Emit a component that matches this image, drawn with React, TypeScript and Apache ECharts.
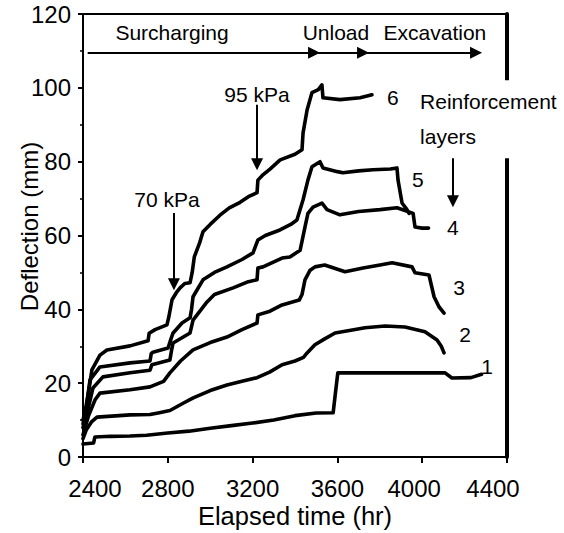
import React, { useEffect, useRef } from "react";
import * as echarts from "echarts";

// Elapsed time (hr), deflection (mm) pairs
const curve1: number[][] = [
  [2400, 3.5], [2450, 3.8], [2456, 5.4], [2530, 5.6], [2622, 5.7], [2700, 5.9], [2800, 6.5],
  [2900, 7.0], [3000, 7.8], [3100, 8.5], [3200, 9.2], [3300, 10.0], [3400, 11.2],
  [3500, 11.9], [3580, 12.0], [3590, 17], [3602, 22.8], [4108, 22.8], [4140, 21.4],
  [4230, 21.5], [4280, 22.4],
];
const curve2: number[][] = [
  [2400, 5], [2415, 7.3], [2440, 9.5], [2466, 10.8], [2622, 11.4], [2716, 11.5],
  [2760, 12], [2810, 12.6], [2870, 14.5], [2920, 16], [3000, 18], [3079, 19.5],
  [3150, 20.5], [3221, 21.5], [3280, 23], [3339, 25], [3400, 26], [3440, 27],
  [3457, 28.2], [3494, 30.4], [3540, 32], [3589, 33.6], [3650, 34.2], [3730, 35],
  [3825, 35.5], [3919, 35.2], [4013, 33.9], [4070, 31.7], [4090, 30], [4103, 28.2],
];
const curve3: number[][] = [
  [2400, 6], [2425, 11], [2457, 15.5], [2480, 17.3], [2622, 18.2], [2716, 19],
  [2780, 20.5], [2810, 22.8], [2860, 26], [2919, 29], [3000, 31], [3079, 32.5],
  [3150, 34.5], [3221, 36.3], [3225, 38.5], [3282, 39.5], [3339, 41.2], [3420, 42.5],
  [3433, 44], [3447, 48], [3470, 50.5], [3494, 51.5], [3540, 52], [3636, 50.2],
  [3721, 51.2], [3801, 52], [3858, 52.6], [3952, 51.5], [3966, 49.9], [4032, 49.3],
  [4056, 43.4], [4079, 40.7], [4103, 39],
];
const curve4: number[][] = [
  [2400, 8], [2420, 12], [2447, 18.7], [2494, 21.7], [2622, 22.8], [2716, 23.5],
  [2725, 25], [2810, 26.3], [2818, 29], [2825, 30.9], [2905, 33.6], [2919, 37.1],
  [2985, 42], [3020, 44], [3108, 45.8], [3180, 47.5], [3221, 48], [3225, 51.2],
  [3249, 51.5], [3339, 53.9], [3376, 54.2], [3424, 56], [3447, 62.3], [3461, 66],
  [3485, 67.7], [3527, 68.8], [3551, 67], [3612, 65.6], [3700, 66.5], [3801, 67],
  [3881, 67.5], [3957, 66], [3966, 62.3], [4000, 62], [4030, 62],
];
const curve5: number[][] = [
  [2400, 9], [2415, 13], [2433, 20.9], [2480, 24.4], [2622, 25.5], [2716, 26],
  [2722, 28], [2730, 28.4], [2801, 29.5], [2815, 32], [2825, 33.6], [2867, 36.3],
  [2905, 37.7], [2912, 40], [2919, 43.4], [2966, 48], [3020, 50], [3079, 51.5],
  [3150, 53.5], [3202, 55.3], [3225, 58.8], [3260, 60], [3329, 61.5], [3380, 63],
  [3409, 64.2], [3438, 69.7], [3461, 75], [3480, 78.6], [3518, 80], [3532, 78.3],
  [3600, 77.3], [3626, 77], [3700, 77.5], [3768, 77.8], [3850, 78], [3881, 78.3],
  [3886, 75], [3905, 68.8], [3928, 67], [3938, 66],
];
const curve6: number[][] = [
  [2400, 10], [2415, 14], [2430, 19], [2442, 23.6], [2480, 27.6], [2513, 29],
  [2622, 30.1], [2707, 31.5], [2712, 33.5], [2740, 34.5], [2796, 35.8], [2805, 38],
  [2820, 42.6], [2840, 44.5], [2858, 45.8], [2880, 47], [2905, 47.2], [2915, 50],
  [2925, 54.2], [2950, 58], [2966, 61], [3000, 63], [3046, 65.5], [3090, 67.5],
  [3141, 69], [3180, 70.5], [3221, 71.6], [3225, 75], [3250, 76.5], [3282, 78],
  [3330, 80.5], [3400, 82], [3433, 83.2], [3438, 87.8], [3457, 94], [3480, 98.7],
  [3510, 99.5], [3527, 100.8], [3532, 97.3], [3612, 96.8], [3707, 97.3], [3763, 98.1],
];
const curves = [curve1, curve2, curve3, curve4, curve5, curve6];

const xTicks = { min: 2400, max: 4400, interval: 400 };
const yTicks = { min: 0, max: 120, interval: 20 };
const xLabelShift: Record<number, number> = { 2400: 12, 4000: -8, 4400: -14 };

// Stage arrow line (time, deflection level)
const stageLevel = 109.5;
const stageArrows: number[][] = [[2422, 3490], [3490, 3721], [3721, 4254]];
// Vertical arrows: [time, top, end]
const vArrows: number[][] = [[2829, 66.1, 46.8], [3221, 95.4, 79.3], [4145, 83.2, 69.3]];

// Text labels: [text, time, deflection]
const centerLabels: [string, number, number][] = [
  ["Surcharging", 2820, 114.9],
  ["Unload", 3593, 114.9],
  ["Excavation", 4060, 114.9],
  ["95 kPa", 3221, 98.1],
  ["70 kPa", 2796, 69.7],
  ["6", 3862, 97.3],
  ["5", 3980, 75.1],
  ["4", 4145, 62.3],
  ["3", 4174, 45.8],
  ["2", 4202, 33.1],
  ["1", 4306, 24.4],
];
const layersLabel: [string, number, number] = ["Reinforcement\nlayers", 3990, 91.5];

const FONT = "Liberation Sans, Arial, sans-serif";
const TICK_FS = 24;

export default function App() {
  const ref = useRef<HTMLDivElement>(null);
  useEffect(() => {
    if (!ref.current) return;
    const chart = echarts.init(ref.current, undefined, { renderer: "svg" });
    const markLineData: any[] = [];
    stageArrows.forEach(([a, b]) => {
      markLineData.push([{ coord: [a, stageLevel] }, { coord: [b, stageLevel] }]);
    });
    vArrows.forEach(([t, top, end]) => {
      markLineData.push([{ coord: [t, top] }, { coord: [t, end] }]);
    });
    const markPointData: any[] = centerLabels.map(([text, t, v]) => ({
      coord: [t, v],
      label: { show: true, formatter: text, position: "inside" },
    }));
    markPointData.push({
      coord: [layersLabel[1], layersLabel[2]],
      label: {
        show: true,
        formatter: layersLabel[0],
        position: "right",
        distance: 0,
        align: "left",
        lineHeight: 35,
        backgroundColor: "#fff",
        padding: [4, 4, 4, 0],
      },
    });

    const series: any[] = curves.map((c) => ({
      type: "line",
      data: c,
      showSymbol: false,
      silent: true,
      lineStyle: { color: "#000", width: 3.6, join: "round", cap: "round" },
      itemStyle: { color: "#000" },
      z: 3,
    }));
    series[0].markLine = {
      silent: true,
      symbol: ["none", "triangle"],
      symbolSize: [12, 12],
      label: { show: false },
      lineStyle: { color: "#000", width: 2, type: "solid" },
      itemStyle: { color: "#000" },
      data: markLineData,
    };
    series[0].markPoint = {
      silent: true,
      symbol: "circle",
      symbolSize: 0,
      itemStyle: { color: "rgba(0,0,0,0)" },
      label: { show: true, color: "#000", fontSize: 21, fontFamily: FONT },
      data: markPointData,
      z: 10,
    };

    chart.setOption({
      animation: false,
      backgroundColor: "#fff",
      textStyle: { fontFamily: FONT, color: "#000" },
      grid: {
        left: 83,
        right: 57,
        top: 14,
        bottom: 76,
        containLabel: false,
        outerBoundsMode: "none",
      },
      xAxis: [
        {
          type: "value",
          position: "bottom",
          min: xTicks.min,
          max: xTicks.max,
          interval: xTicks.interval,
          name: "Elapsed time (hr)",
          nameLocation: "middle",
          nameGap: 46,
          nameMoveOverlap: false,
          nameTextStyle: { fontSize: 25.5, color: "#000", fontFamily: FONT },
          axisLine: { onZero: false, lineStyle: { color: "#000", width: 2 } },
          axisTick: { length: 6, lineStyle: { color: "#000", width: 2 } },
          axisLabel: {
            margin: 19,
            color: "#000",
            fontSize: TICK_FS,
            fontFamily: FONT,
            formatter: (v: number) => {
              const s = xLabelShift[v];
              if (!s) return String(v);
              return s > 0 ? `{l|${v}}` : s === -8 ? `{r|${v}}` : `{rr|${v}}`;
            },
            rich: {
              l: { fontSize: TICK_FS, fontFamily: FONT, color: "#000", padding: [0, 0, 0, 24] },
              r: { fontSize: TICK_FS, fontFamily: FONT, color: "#000", padding: [0, 16, 0, 0] },
              rr: { fontSize: TICK_FS, fontFamily: FONT, color: "#000", padding: [0, 28, 0, 0] },
            },
          },
          splitLine: { show: false },
        },
        {
          type: "value",
          position: "top",
          min: xTicks.min,
          max: xTicks.max,
          axisLine: { onZero: false, lineStyle: { color: "#000", width: 2 } },
          axisTick: { show: false },
          axisLabel: { show: false },
          splitLine: { show: false },
        },
      ],
      yAxis: [
        {
          type: "value",
          position: "left",
          min: yTicks.min,
          max: yTicks.max,
          interval: yTicks.interval,
          name: "Deflection (mm)",
          nameLocation: "middle",
          nameGap: 42,
          nameMoveOverlap: false,
          nameTextStyle: { fontSize: 24, color: "#000", fontFamily: FONT, padding: [0, 0, 0, 18] },
          axisLine: { onZero: false, lineStyle: { color: "#000", width: 2 } },
          axisTick: { length: 5, lineStyle: { color: "#000", width: 2 } },
          minorTick: { show: true, splitNumber: 2, length: 3, lineStyle: { color: "#000", width: 1.5 } },
          axisLabel: { margin: 12, color: "#000", fontSize: TICK_FS, fontFamily: FONT },
          splitLine: { show: false },
        },
        {
          type: "value",
          position: "right",
          min: yTicks.min,
          max: yTicks.max,
          axisLine: { show: true, onZero: false, lineStyle: { color: "#000", width: 4 } },
          axisTick: { show: false },
          axisLabel: { show: false },
          splitLine: { show: false },
        },
      ],
      series,
    });
    return () => chart.dispose();
  }, []);
  return (
    <div
      ref={ref}
      style={{ position: "absolute", left: 0, top: 0, width: 564, height: 533, background: "#fff" }}
    />
  );
}
